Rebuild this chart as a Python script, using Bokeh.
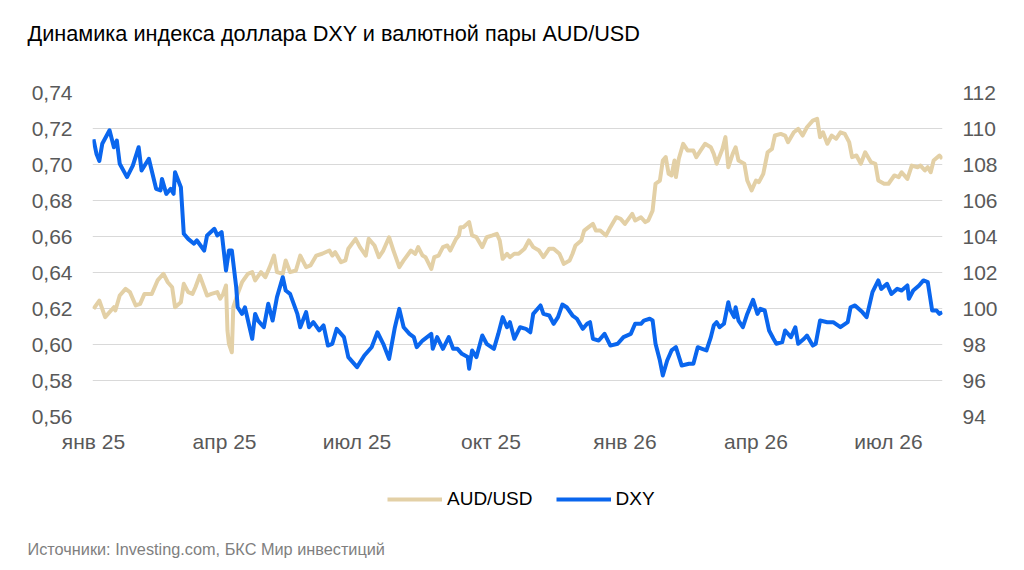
import pandas as pd
from bokeh.plotting import figure
from bokeh.layouts import column
from bokeh.models import (Range1d, LinearAxis, FixedTicker, CustomJSTickFormatter,
                          Legend, LegendItem, Label, ColumnDataSource)
from bokeh.embed import file_html
from bokeh.resources import INLINE

TITLE = "Динамика индекса доллара DXY и валютной пары AUD/USD"
SOURCE = "Источники: Investing.com, БКС Мир инвестиций"
START = "2025-01-01"

tick_dates = ["2025-01-01", "2025-04-01", "2025-07-01", "2025-10-01",
              "2026-01-01", "2026-04-01", "2026-07-01"]
tick_labels = ["янв 25", "апр 25", "июл 25", "окт 25", "янв 26", "апр 26", "июл 26"]
aud_ticks = [0.56, 0.58, 0.60, 0.62, 0.64, 0.66, 0.68, 0.70, 0.72, 0.74]
dxy_ticks = [94, 96, 98, 100, 102, 104, 106, 108, 110, 112]

# days since 2025-01-01
dxy_day = [0, 2, 4, 6, 11, 14, 16, 18, 23, 27, 31, 33, 38, 43, 46, 47, 50, 53, 55, 56,
           60, 62, 65, 69, 71, 76, 78, 83, 85, 88, 91, 93, 95, 98, 99, 102, 104, 109, 111, 113,
           117, 120, 123, 126, 130, 132, 135, 140, 142, 146, 148, 151, 155, 158, 161, 164, 167, 172, 175, 181,
           186, 191, 195, 199, 203, 207, 210, 213, 217, 220, 222, 226, 232, 233, 236, 240, 244, 247, 250, 253,
           257, 258, 260, 263, 267, 270, 275, 278, 281, 284, 286, 289, 293, 297, 300, 302, 307, 309, 313, 316,
           319, 322, 325, 329, 332, 336, 339, 341, 343, 347, 351, 355, 360, 364, 369, 372, 376, 378, 382, 384,
           386, 389, 391, 394, 397, 400, 404, 409, 412, 415, 418, 421, 424, 426, 428, 430, 433, 436, 437, 440,
           441, 443, 446, 449, 453, 456, 458, 461, 464, 467, 469, 473, 475, 479, 482, 484, 488, 490, 494, 496,
           499, 504, 508, 513, 518, 520, 523, 528, 531, 535, 539, 541, 545, 548, 552, 555, 559, 560, 563, 567,
           570, 573, 576, 579, 581, 583]
dxy_val = [109.4, 108.6, 108.2, 109.15, 109.9, 108.96, 109.33, 108.04, 107.3, 107.94, 108.96, 107.67, 108.32, 106.65, 106.56, 107.2, 106.37, 106.65, 106.37, 107.57,
           106.74, 104.15, 103.87, 103.6, 103.78, 103.22, 104.06, 104.43, 104.06, 104.24, 102.11, 103.22, 103.22, 101.18, 100.07, 99.7, 100.07, 98.32, 99.7, 99.33,
           98.96, 100.26, 99.33, 100.63, 101.74, 101.0, 100.81, 99.7, 98.96, 99.8, 98.96, 99.24, 98.78, 99.06, 97.94, 98.04, 98.87, 98.41, 97.3, 96.74,
           97.39, 97.85, 98.68, 98.04, 97.2, 98.96, 99.98, 98.96, 98.59, 98.41, 97.85, 98.22, 98.59, 97.76, 98.41, 97.76, 98.41, 97.76, 97.76, 97.48,
           97.3, 96.65, 97.67, 97.3, 98.5, 98.04, 97.76, 98.59, 99.52, 98.96, 99.24, 98.32, 98.96, 98.87, 98.68, 99.7, 100.17, 99.7, 99.61, 99.15,
           99.52, 100.22, 100.07, 99.61, 99.43, 98.87, 99.15, 99.24, 98.32, 98.22, 98.59, 97.94, 98.04, 98.41, 98.59, 99.15, 99.15, 99.33, 99.43, 99.33,
           98.04, 97.11, 96.28, 97.11, 97.67, 97.85, 96.83, 96.93, 96.93, 97.85, 97.76, 97.67, 98.41, 99.06, 99.24, 98.96, 99.15, 100.35, 99.98, 99.52,
           100.07, 99.33, 98.96, 99.7, 100.48, 99.7, 99.98, 99.89, 98.78, 98.32, 98.04, 98.13, 98.78, 98.41, 98.96, 98.04, 98.32, 98.5, 97.94, 98.04,
           99.33, 99.24, 99.24, 98.96, 99.24, 100.07, 100.17, 99.8, 99.52, 100.91, 101.56, 101.09, 101.37, 100.81, 101.09, 101.0, 101.28, 100.54, 101.0, 101.28,
           101.56, 101.46, 99.89, 99.89, 99.7, 99.8]

aud_day = [0, 4, 8, 12, 14, 15, 18, 22, 25, 29, 32, 35, 40, 44, 48, 51, 54, 56, 60, 62,
           65, 68, 70, 73, 78, 81, 85, 87, 89, 91, 92, 93, 95, 96, 99, 102, 106, 109, 111, 115,
           118, 121, 124, 126, 130, 132, 135, 139, 142, 146, 149, 153, 157, 162, 164, 166, 170, 173, 175, 180,
           183, 187, 189, 193, 196, 199, 203, 206, 210, 213, 218, 221, 223, 226, 228, 232, 234, 237, 240, 243,
           245, 249, 251, 252, 254, 258, 260, 263, 267, 270, 274, 277, 279, 281, 284, 286, 289, 292, 296, 299,
           302, 306, 309, 313, 316, 320, 323, 327, 329, 331, 335, 337, 340, 343, 345, 348, 352, 355, 359, 362,
           365, 370, 372, 376, 379, 381, 384, 386, 389, 391, 393, 395, 397, 399, 400, 402, 405, 408, 412, 414,
           417, 420, 424, 426, 428, 432, 434, 436, 439, 441, 443, 447, 449, 452, 455, 457, 460, 463, 466, 468,
           472, 475, 477, 481, 484, 487, 490, 494, 497, 499, 501, 504, 507, 510, 513, 516, 519, 521, 524, 527,
           530, 534, 537, 539, 543, 546, 550, 553, 555, 559, 562, 566, 568, 571, 573, 575, 577, 581, 583]
aud_val = [0.6198, 0.6244, 0.6152, 0.6189, 0.6207, 0.6189, 0.6272, 0.6309, 0.6291, 0.6217, 0.6226, 0.6281, 0.6281, 0.6356, 0.6393, 0.6346, 0.6318, 0.6207, 0.6235, 0.6337,
           0.6291, 0.6281, 0.6318, 0.6383, 0.6272, 0.6281, 0.6291, 0.6254, 0.6281, 0.6328, 0.6078, 0.6004, 0.5957, 0.6207, 0.6281, 0.6346, 0.6393, 0.6402, 0.6356, 0.6402,
           0.6374, 0.6430, 0.6494, 0.6402, 0.6393, 0.6467, 0.6402, 0.6411, 0.6494, 0.6430, 0.6439, 0.6494, 0.6504, 0.6522, 0.6494, 0.6513, 0.6457, 0.6467, 0.6532, 0.6587,
           0.6541, 0.6494, 0.6587, 0.6550, 0.6485, 0.6522, 0.6596, 0.6522, 0.6430, 0.6467, 0.6522, 0.6504, 0.6541, 0.6494, 0.6485, 0.6420, 0.6485, 0.6494, 0.6541, 0.6550,
           0.6522, 0.6587, 0.6606, 0.6652, 0.6652, 0.6680, 0.6606, 0.6596, 0.6541, 0.6596, 0.6606, 0.6615, 0.6578, 0.6476, 0.6504, 0.6485, 0.6504, 0.6504, 0.6532, 0.6578,
           0.6541, 0.6522, 0.6485, 0.6532, 0.6532, 0.6504, 0.6448, 0.6467, 0.6504, 0.6550, 0.6578, 0.6633, 0.6652, 0.6670, 0.6633, 0.6633, 0.6606, 0.6652, 0.6707, 0.6698,
           0.6670, 0.6726, 0.6689, 0.6707, 0.6680, 0.6689, 0.6744, 0.6893, 0.6911, 0.7022, 0.7041, 0.6948, 0.6939, 0.7022, 0.6930, 0.7032, 0.7115, 0.7078, 0.7078, 0.7041,
           0.7078, 0.7115, 0.7096, 0.7059, 0.7004, 0.7087, 0.7152, 0.6985, 0.7059, 0.7096, 0.7022, 0.7004, 0.6911, 0.6856, 0.6911, 0.6902, 0.6948, 0.7068, 0.7087, 0.7161,
           0.7170, 0.7161, 0.7124, 0.7179, 0.7198, 0.7161, 0.7207, 0.7244, 0.7254, 0.7152, 0.7179, 0.7115, 0.7161, 0.7143, 0.7179, 0.7170, 0.7124, 0.7041, 0.7050, 0.7004,
           0.7068, 0.7013, 0.7004, 0.6911, 0.6893, 0.6893, 0.6939, 0.6930, 0.6957, 0.6920, 0.6994, 0.6985, 0.6994, 0.6967, 0.6985, 0.6957, 0.7022, 0.7050, 0.7032]

AUD_COLOR = "#E3D0A6"
DXY_COLOR = "#0A66EE"
FONT = "Liberation Sans"

base = pd.Timestamp(START)
aud_src = ColumnDataSource(dict(x=base + pd.to_timedelta(aud_day, unit="D"), y=aud_val))
dxy_src = ColumnDataSource(dict(x=base + pd.to_timedelta(dxy_day, unit="D"), y=dxy_val))

x_start = base + pd.Timedelta(days=-0.7)
x_end = base + pd.Timedelta(days=583.1)


def strip(height):
    f = figure(width=1008, height=height, x_range=Range1d(0, 1), y_range=Range1d(0, 1),
               output_backend="svg", toolbar_location=None,
               x_axis_location=None, y_axis_location=None, min_border=0)
    f.frame_align = False
    f.outline_line_color = None
    f.grid.grid_line_color = None
    f.background_fill_color = "white"
    f.border_fill_color = "white"
    return f


# ---------------- title strip ----------------
t = strip(60)
t.add_layout(Label(x=27, y=27, x_units="screen", y_units="screen", text=TITLE,
                   text_font=FONT, text_font_size="21.7px", text_color="black",
                   text_baseline="middle", text_align="left"))

# ---------------- main chart ----------------
p = figure(width=1008, height=396, x_axis_type="datetime",
           x_range=Range1d(x_start, x_end), y_range=Range1d(aud_ticks[0], aud_ticks[-1]),
           output_backend="svg", toolbar_location=None,
           min_border_left=92, min_border_right=66, min_border_top=32, min_border_bottom=40)
p.extra_y_ranges = {"dxy": Range1d(dxy_ticks[0], dxy_ticks[-1])}
p.outline_line_color = None
p.background_fill_color = "white"
p.border_fill_color = "white"

r_aud = p.line("x", "y", source=aud_src, line_color=AUD_COLOR, line_width=4, line_join="round")
r_dxy = p.line("x", "y", source=dxy_src, line_color=DXY_COLOR, line_width=4, line_join="round",
               y_range_name="dxy")


def style_axis(ax, standoff):
    ax.axis_line_color = None
    ax.major_tick_line_color = None
    ax.minor_tick_line_color = None
    ax.major_tick_out = 0
    ax.major_tick_in = 0
    ax.minor_tick_out = 0
    ax.minor_tick_in = 0
    ax.major_label_standoff = standoff
    ax.major_label_text_font = FONT
    ax.major_label_text_font_size = "21px"
    ax.major_label_text_color = "#595959"


tick_ms = [pd.Timestamp(d).value // 10**6 for d in tick_dates]
xa = p.xaxis[0]
xa.ticker = FixedTicker(ticks=tick_ms)
xa.major_label_overrides = {float(t_): lab for t_, lab in zip(tick_ms, tick_labels)}
style_axis(xa, 13)

ya = p.yaxis[0]
ya.ticker = FixedTicker(ticks=aud_ticks)
ya.formatter = CustomJSTickFormatter(code="return tick.toFixed(2).replace('.', ',');")
style_axis(ya, 20)

ra = LinearAxis(y_range_name="dxy", ticker=FixedTicker(ticks=dxy_ticks))
style_axis(ra, 20)
p.add_layout(ra, "right")

p.xgrid.grid_line_color = None
p.ygrid.grid_line_color = "#D9D9D9"
p.ygrid.grid_line_width = 1
p.ygrid.ticker = FixedTicker(ticks=aud_ticks)

# ---------------- legend + source strip ----------------
q = strip(110)
# same series, outside this strip's ranges: only their legend swatches show
l_aud = q.line("x", "y", source=aud_src, line_color=AUD_COLOR, line_width=4)
l_dxy = q.line("x", "y", source=dxy_src, line_color=DXY_COLOR, line_width=4)

legend = Legend(items=[LegendItem(label="AUD/USD", renderers=[l_aud]),
                       LegendItem(label="DXY", renderers=[l_dxy])],
                orientation="horizontal", location=(387, 56),
                glyph_width=55, glyph_height=20, label_standoff=5, spacing=23,
                padding=0, margin=0, border_line_color=None, background_fill_alpha=0,
                label_text_font=FONT, label_text_font_size="19px", label_text_color="black")
q.add_layout(legend, "center")

q.add_layout(Label(x=27, y=18, x_units="screen", y_units="screen", text=SOURCE,
                   text_font=FONT, text_font_size="16.3px", text_color="#7F7F7F",
                   text_baseline="middle", text_align="left"))

layout = column(t, p, q, spacing=0)
open("out.html", "w").write(file_html(layout, INLINE))
